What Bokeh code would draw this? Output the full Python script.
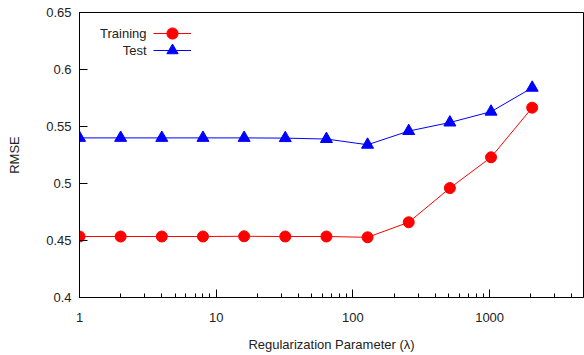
from bokeh.plotting import figure
from bokeh.models import (Range1d, FixedTicker, PrintfTickFormatter, Legend, LegendItem, Label)
from bokeh.embed import file_html
from bokeh.resources import INLINE

# Data
lam = [1, 2, 4, 8, 16, 32, 64, 128, 256, 512, 1024, 2048]
training = [0.4535, 0.4535, 0.4535, 0.4535, 0.4537, 0.4535, 0.4535, 0.4528, 0.466, 0.496, 0.523, 0.5665]
test = [0.540, 0.540, 0.540, 0.540, 0.540, 0.5398, 0.539, 0.534, 0.546, 0.5535, 0.563, 0.584]
series_names = ["Training", "Test"]

x_major = [1, 10, 100, 1000]
x_minor = [2, 3, 4, 5, 6, 7, 8, 9, 20, 30, 40, 50, 60, 70, 80, 90,
           200, 300, 400, 500, 600, 700, 800, 900, 2000, 3000, 4000]
y_major = [0.4, 0.45, 0.5, 0.55, 0.6, 0.65]

FONT = "Liberation Sans"
TXT = "#222222"

p = figure(width=584, height=355, x_axis_type="log",
           x_range=Range1d(1, 4860), y_range=Range1d(0.4, 0.65),
           output_backend="svg", toolbar_location=None,
           min_border_left=79, min_border_right=1, min_border_top=12, min_border_bottom=58)

p.xgrid.visible = False
p.ygrid.visible = False
p.outline_line_color = "black"
p.outline_line_width = 1
p.background_fill_color = "white"
p.border_fill_color = "white"

lt = p.line(lam, training, line_color="#ff0000", line_width=1)
st = p.scatter(lam, training, marker="circle", size=11, fill_color="#ff0000", line_color="#ff0000")
lv = p.line(lam, test, line_color="#0000ff", line_width=1)
sv = p.scatter(lam, test, marker="triangle", size=12, fill_color="#0000ff", line_color="#0000ff")

for ax in (p.xaxis[0], p.yaxis[0]):
    ax.axis_line_color = "black"
    ax.axis_line_width = 1
    ax.major_tick_line_color = "black"
    ax.minor_tick_line_color = "black"
    ax.major_tick_in = 8
    ax.major_tick_out = 0
    ax.minor_tick_in = 4
    ax.minor_tick_out = 0
    ax.major_label_text_font = FONT
    ax.major_label_text_font_size = "13px"
    ax.major_label_text_color = TXT
    ax.axis_label_text_font = FONT
    ax.axis_label_text_font_size = "13px"
    ax.axis_label_text_font_style = "normal"
    ax.axis_label_text_color = TXT

p.xaxis.ticker = FixedTicker(ticks=x_major, minor_ticks=x_minor)
p.xaxis.formatter = PrintfTickFormatter(format="%g")
p.xaxis.axis_label = "Regularization Parameter (λ)"
p.xaxis.major_label_standoff = 15
p.xaxis.axis_label_standoff = 12

p.yaxis.ticker = FixedTicker(ticks=y_major, minor_ticks=[])
p.yaxis.formatter = PrintfTickFormatter(format="%g")
p.yaxis.axis_label = "RMSE"
p.yaxis.major_label_standoff = 8
p.yaxis.axis_label_standoff = 21

# Legend: glyph samples (one legend per row) with text to their left
rows = [(series_names[0], [lt, st], 250, 264), (series_names[1], [lv, sv], 233, 247)]
for name, rends, ly, ty in rows:
    lg = Legend(items=[LegendItem(label=" ", renderers=rends)],
                location=(74, ly), glyph_width=38, glyph_height=28,
                label_height=10, label_width=0, label_standoff=0,
                spacing=0, padding=0, margin=0,
                label_text_font_size="1px",
                border_line_color=None, background_fill_alpha=0)
    p.add_layout(lg)
    p.add_layout(Label(x=67, y=ty, x_units="screen", y_units="screen", text=name,
                       text_align="right", text_baseline="middle",
                       text_font=FONT, text_font_size="13px", text_color=TXT))

open("out.html", "w").write(file_html(p, INLINE))
